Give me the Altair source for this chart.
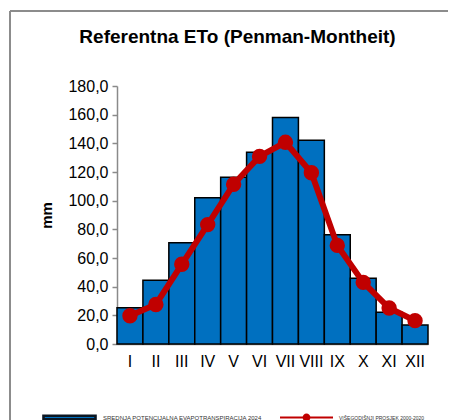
import altair as alt
import pandas as pd

months = ["I", "II", "III", "IV", "V", "VI", "VII", "VIII", "IX", "X", "XI", "XII"]
eto_2024 = [25.3, 44.4, 70.7, 102.1, 116.3, 133.7, 158.1, 142.1, 76.3, 45.8, 22.1, 13.3]
eto_avg = [19.7, 27.6, 55.6, 83.3, 111.4, 130.9, 140.7, 119.5, 68.8, 43.0, 25.1, 16.3]
bar_label = "SREDNJA POTENCIJALNA EVAPOTRANSPIRACIJA 2024"
line_label = "VIŠEGODIŠNJI PROSJEK 2000-2020"
y_ticks = [0, 20, 40, 60, 80, 100, 120, 140, 160, 180]

df = pd.DataFrame({
    "month": months,
    "eto": eto_2024,
    "avg": eto_avg,
    "s1": [bar_label] * 12,
    "s2": [line_label] * 12,
})

FONT = "Liberation Sans"
W, H = 311, 258

x_axis = alt.Axis(title=None, labelAngle=0, ticks=False, labelFontSize=16,
                  labelColor="black", labelFont=FONT, labelPadding=9,
                  domainColor="#8a8a8a", domainWidth=1.5)
y_axis = alt.Axis(values=y_ticks, title="mm", grid=False,
                  labelOverlap=False, labelBound=False, labelFlush=False,
                  labelExpr="replace(format(datum.value, '.1f'), '.', ',')",
                  labelFontSize=16, labelFont=FONT, labelColor="black",
                  labelPadding=4, tickSize=5, tickColor="#8a8a8a",
                  tickWidth=1.5, domainColor="#8a8a8a", domainWidth=1.5,
                  titleFont=FONT, titleFontSize=15, titleFontWeight="bold",
                  titleColor="black", titleAngle=270, titleX=-71,
                  titleY=H / 2, titleAlign="center", titleBaseline="middle")
x_scale = alt.Scale(paddingInner=0, paddingOuter=0)
y_scale = alt.Scale(domain=[0, 180], nice=False)

bars = alt.Chart(df).mark_bar(stroke="black", strokeWidth=1.5).encode(
    x=alt.X("month:N", sort=months, scale=x_scale, axis=x_axis),
    y=alt.Y("eto:Q", scale=y_scale, axis=y_axis),
    fill=alt.Fill("s1:N", scale=alt.Scale(range=["#0070C0"]),
                  legend=alt.Legend(
                      title=None, orient="none", legendX=-75, legendY=304,
                      padding=0,
                      symbolType="M-1,-0.07H1V0.07H-1Z", symbolSize=2704,
                      symbolStrokeColor="#0a1622", symbolStrokeWidth=2.6,
                      labelFontSize=6, labelFont=FONT, labelColor="#333333",
                      labelOffset=6)),
)

line = alt.Chart(df).mark_line(
    color="#C00000", strokeWidth=6,
    point=alt.OverlayMarkDef(filled=True, fill="#C00000", size=180, opacity=1),
).encode(
    x=alt.X("month:N", sort=months, scale=x_scale, axis=x_axis),
    y=alt.Y("avg:Q", scale=y_scale, axis=y_axis),
    stroke=alt.Stroke("s2:N", scale=alt.Scale(range=["#C00000"]),
                      legend=alt.Legend(
                          title=None, orient="none", legendX=162, legendY=304,
                          padding=0,
                          symbolType="M-1,0H1M-0.11,0A0.11,0.11 0 1,1 0.11,0A0.11,0.11 0 1,1 -0.11,0Z",
                          symbolSize=2809, symbolFillColor="#C00000",
                          symbolStrokeWidth=2,
                          labelFontSize=5, labelFont=FONT, labelColor="#333333",
                          labelOffset=5)),
)

border = alt.Chart(df).mark_rule(color="#8c8c8c", strokeWidth=2).encode(
    x=alt.value(-107), x2=alt.value(W + 20),
    y=alt.value(-75),
)
border_left = alt.Chart(df).mark_rule(color="#8c8c8c", strokeWidth=2).encode(
    x=alt.value(-107), y=alt.value(-75), y2=alt.value(H + 76),
)

chart = alt.layer(border, border_left, bars, line).resolve_scale(
    fill="independent", stroke="independent"
).properties(
    width=W, height=H,
    padding={"left": 109, "top": 78, "right": 20, "bottom": 76},
    autosize=alt.AutoSizeParams(type="none"),
    title=alt.TitleParams(
        "Referentna ETo (Penman-Montheit)", font=FONT, fontSize=19,
        fontWeight="bold", color="black", anchor="middle", frame="group",
        dx=-35, offset=-52, baseline="alphabetic"),
).configure_view(stroke=None)

chart.save("out.html", embed_options={"renderer": "svg", "actions": False})
